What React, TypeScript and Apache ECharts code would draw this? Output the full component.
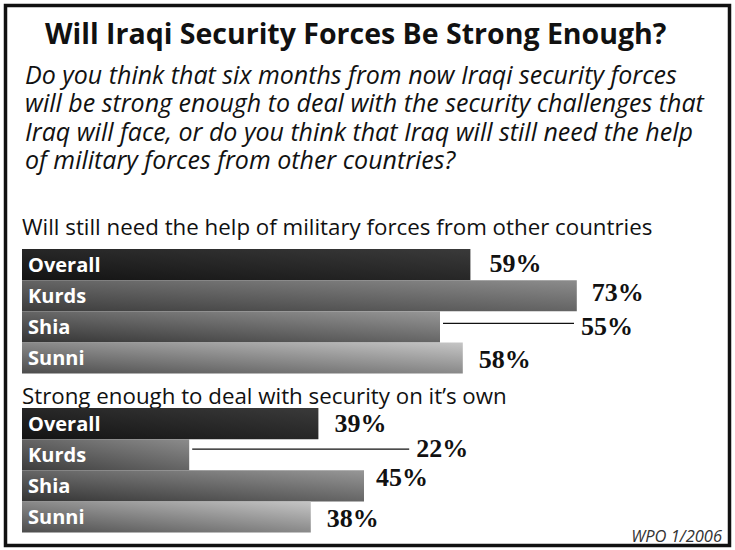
import React, { useEffect, useRef } from "react";
import * as echarts from "echarts";

const title = "Will Iraqi Security Forces Be Strong Enough?";
const questionLines = [
  "Do you think that six months from now Iraqi security forces",
  "will be strong enough to deal with the security challenges that",
  "Iraq will face, or do you think that Iraq will still need the help",
  "of military forces from other countries?",
];
const categories = ["Overall", "Kurds", "Shia", "Sunni"];
const groupTitles = [
  "Will still need the help of military forces from other countries",
  "Strong enough to deal with security on it\u2019s own",
];
const needHelp = [59, 73, 55, 58];
const strongEnough = [39, 22, 45, 38];
const source = "WPO 1/2006";

// layout / style config (not data)
const PX_PER_PCT = 7.6;
const AXIS_MAX = 90;
const barStops: Record<string, [string, string]> = {
  Overall: ["#131313", "#3a3a3a"],
  Kurds: ["#3c3c3c", "#8c8c8c"],
  Shia: ["#343434", "#979797"],
  Sunni: ["#4c4c4c", "#c6c6c6"],
};
// per-bar value label placement: distance from bar end, vertical nudge, leader line offset
const labelPlacement = [
  [
    { dist: 19, dy: -1.5, leader: null as number | null },
    { dist: 15, dy: -3, leader: null },
    { dist: 141, dy: 0, leader: -3.5 },
    { dist: 16, dy: 1.5, leader: null },
  ],
  [
    { dist: 16, dy: 0, leader: null },
    { dist: 227, dy: -6, leader: -5.5 },
    { dist: 12, dy: -8, leader: null },
    { dist: 16, dy: 2, leader: null },
  ],
];

const SANS = "'Open Sans', Lato, sans-serif";
const SERIF = "'Liberation Serif', 'DejaVu Serif', serif";

export default function App() {
  const ref = useRef<HTMLDivElement>(null);

  useEffect(() => {
    document.body.style.margin = "0";
    if (!ref.current) return;
    const chart = echarts.init(ref.current, undefined, { renderer: "svg" });

    const groups = [needHelp, strongEnough];
    const gridTops = [249, 408];
    const gridH = 124.5;
    const gridW = AXIS_MAX * PX_PER_PCT;

    const grid = gridTops.map((t) => ({ left: 22, top: t, width: gridW, height: gridH }));
    const xAxis = groups.map((_, i) => ({
      type: "value",
      gridIndex: i,
      min: 0,
      max: AXIS_MAX,
      show: false,
    }));
    const yAxis = groups.map((_, i) => ({
      type: "category",
      gridIndex: i,
      data: categories,
      inverse: true,
      axisLine: { show: false },
      axisTick: { show: false },
      splitLine: { show: false },
      z: 10,
      axisLabel: {
        inside: true,
        margin: 6,
        color: "#ffffff",
        fontFamily: SANS,
        fontWeight: "bold",
        fontSize: 20,
        padding: [7, 0, 0, 0],
      },
    }));

    const series = groups.map((vals, gi) => {
      const data = vals.map((v, ci) => {
        const p = labelPlacement[gi][ci];
        const [c0, c1] = barStops[categories[ci]];
        return {
          value: v,
          itemStyle: {
            color: new echarts.graphic.LinearGradient(0, 1, 1, 0, [
              { offset: 0, color: c0 },
              { offset: 1, color: c1 },
            ]),
          },
          label: { distance: p.dist, offset: [0, p.dy] },
        };
      });
      return {
        type: "bar",
        xAxisIndex: gi,
        yAxisIndex: gi,
        barCategoryGap: 0,
        data,
        label: {
          show: true,
          position: "right",
          formatter: "{c}%",
          fontFamily: SERIF,
          fontWeight: "bold",
          fontSize: 26,
          color: "#111111",
        },
      };
    });

    const questionTexts = questionLines.map((line, i) => ({
      type: "text",
      x: 25,
      y: 73.5 + i * 28.5,
      style: {
        text: line,
        fontFamily: SANS,
        fontStyle: "italic",
        fontSize: 25,
        fill: "#111111",
        verticalAlign: "middle",
      },
    }));

    const staticGraphics: any[] = [
      {
        type: "rect",
        shape: { x: 5.5, y: 5.5, width: 724, height: 540 },
        style: { fill: "none", stroke: "#111111", lineWidth: 3.5 },
        z: 100,
      },
      {
        type: "text",
        x: 45,
        y: 33,
        style: {
          text: title,
          fontFamily: SANS,
          fontWeight: "bold",
          fontSize: 28.5,
          fill: "#111111",
          verticalAlign: "middle",
        },
      },
      ...questionTexts,
      {
        type: "text",
        x: 22,
        y: 226,
        style: {
          text: groupTitles[0],
          fontFamily: SANS,
          fontSize: 22.3,
          fill: "#111111",
          verticalAlign: "middle",
        },
      },
      {
        type: "text",
        x: 22,
        y: 395,
        style: {
          text: groupTitles[1],
          fontFamily: SANS,
          fontSize: 22.3,
          fill: "#111111",
          verticalAlign: "middle",
        },
      },
      {
        type: "text",
        x: 722,
        y: 535,
        style: {
          text: source,
          fontFamily: SANS,
          fontStyle: "italic",
          fontSize: 16.5,
          fill: "#333333",
          align: "right",
          verticalAlign: "middle",
        },
      },
    ];

    chart.setOption({
      animation: false,
      backgroundColor: "#ffffff",
      grid,
      xAxis,
      yAxis,
      series,
      graphic: staticGraphics,
    });

    // leader lines, positioned through the chart's own scales
    const leaders: any[] = [];
    groups.forEach((vals, gi) => {
      vals.forEach((v, ci) => {
        const p = labelPlacement[gi][ci];
        if (p.leader === null) return;
        const pt = chart.convertToPixel({ gridIndex: gi }, [v, categories[ci]]) as number[];
        if (!pt) return;
        const y = pt[1] + p.leader;
        leaders.push({
          type: "line",
          shape: { x1: pt[0] + 3, y1: y, x2: pt[0] + p.dist - 7, y2: y },
          style: { stroke: "#111111", lineWidth: 1.3 },
          z: 50,
        });
      });
    });
    chart.setOption({ graphic: [...staticGraphics, ...leaders] });

    return () => chart.dispose();
  }, []);

  return <div ref={ref} style={{ width: 735, height: 550 }} />;
}
